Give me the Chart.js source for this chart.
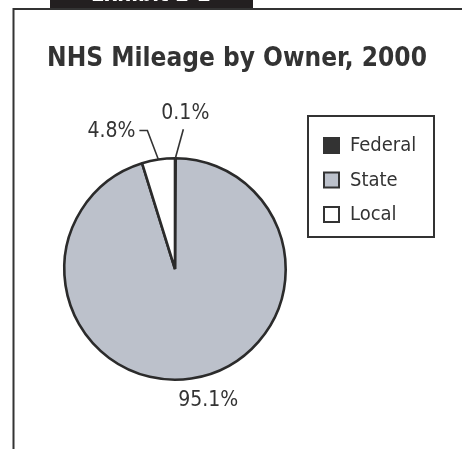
<!DOCTYPE html>
<html>
<head>
<meta charset="utf-8">
<script src="https://cdn.jsdelivr.net/npm/chart.js"></script>
<style>
  html, body { margin: 0; padding: 0; background: #fff; }
  #wrap { width: 462px; height: 449px; }
</style>
</head>
<body>
<div id="wrap"><canvas id="plot-nhs-owner" width="462" height="449"></canvas></div>
<script>
const owners = ["Federal", "State", "Local"];
const shares = [0.1, 95.1, 4.8];
const shareLabels = ["0.1%", "95.1%", "4.8%"];
const fills = ["#333333", "#bcc1cb", "#ffffff"];

const ink = "#333333";
const font = "'DejaVu Sans Condensed', 'DejaVu Sans', sans-serif";

// frame, tab, title and legend box
const framePlugin = {
  id: "frame",
  beforeDraw(chart) {
    const ctx = chart.ctx;
    ctx.save();
    ctx.fillStyle = "#fff";
    ctx.fillRect(0, 0, chart.width, chart.height);
    ctx.fillStyle = "#231f20";
    ctx.fillRect(50, 0, 203, 8);
    ctx.fillStyle = "#fff";
    ctx.font = "bold 22px " + font;
    ctx.textAlign = "center";
    ctx.textBaseline = "alphabetic";
    ctx.fillText("Exhibit 2-2", 151, 1);
    ctx.strokeStyle = ink;
    ctx.lineWidth = 2;
    ctx.beginPath();
    ctx.moveTo(13.5, chart.height);
    ctx.lineTo(13.5, 9);
    ctx.lineTo(chart.width, 9);
    ctx.stroke();
    ctx.fillStyle = ink;
    ctx.font = "bold 26px " + font;
    ctx.fillText("NHS Mileage by Owner, 2000", 237, 66);
    ctx.restore();
  },
  afterDraw(chart) {
    const ctx = chart.ctx;
    ctx.save();
    ctx.strokeStyle = ink;
    ctx.lineWidth = 2;
    ctx.strokeRect(308, 116, 126, 121);
    ctx.font = "20px " + font;
    ctx.textBaseline = "middle";
    ctx.textAlign = "left";
    owners.forEach((name, i) => {
      const y = 145 + i * 34.5;
      ctx.fillStyle = fills[i];
      ctx.fillRect(324, y - 7, 15, 15);
      ctx.strokeRect(324, y - 7, 15, 15);
      ctx.fillStyle = ink;
      ctx.fillText(name, 350, y + 1);
    });
    ctx.restore();
  }
};

// percentage labels with leader lines
const labelPlugin = {
  id: "shareLabels",
  afterDatasetsDraw(chart) {
    const ctx = chart.ctx;
    const arcs = chart.getDatasetMeta(0).data;
    ctx.save();
    ctx.fillStyle = ink;
    ctx.strokeStyle = ink;
    ctx.lineWidth = 1.6;
    ctx.font = "21px " + font;
    ctx.textBaseline = "middle";
    arcs.forEach((arc, i) => {
      const p = arc.getProps(["x", "y", "startAngle", "endAngle", "outerRadius"]);
      const a = (p.startAngle + p.endAngle) / 2;
      const ex = p.x + Math.cos(a) * p.outerRadius;
      const ey = p.y + Math.sin(a) * p.outerRadius;
      if (owners[i] === "Federal") {
        ctx.beginPath();
        ctx.moveTo(ex, ey);
        ctx.lineTo(ex + 8, ey - 29);
        ctx.stroke();
        ctx.textAlign = "center";
        ctx.fillText(shareLabels[i], ex + 10, ey - 45);
      } else if (owners[i] === "Local") {
        ctx.beginPath();
        ctx.moveTo(ex, ey);
        ctx.lineTo(ex - 11, ey - 29);
        ctx.lineTo(ex - 19, ey - 29);
        ctx.stroke();
        ctx.textAlign = "right";
        ctx.fillText(shareLabels[i], ex - 23, ey - 28);
      } else {
        ctx.textAlign = "center";
        ctx.fillText(shareLabels[i], ex + 17, ey + 22);
      }
    });
    ctx.restore();
  }
};

new Chart("plot-nhs-owner", {
  type: "pie",
  data: {
    labels: owners,
    datasets: [{
      data: shares,
      backgroundColor: fills,
      borderColor: "#2b2b2b",
      borderWidth: 2.6
    }]
  },
  options: {
    responsive: false,
    animation: false,
    layout: { padding: { left: 63, right: 175, top: 157, bottom: 68 } },
    plugins: {
      legend: { display: false },
      title: { display: false },
      tooltip: { enabled: false }
    }
  },
  plugins: [framePlugin, labelPlugin]
});
</script>
</body>
</html>
